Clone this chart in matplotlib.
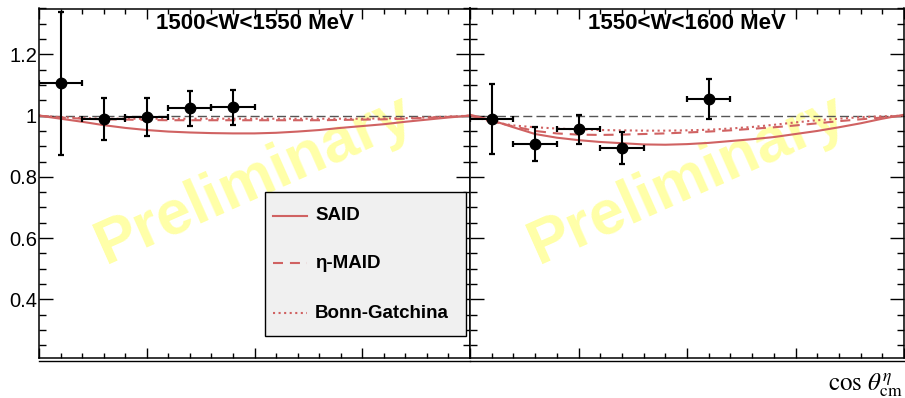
import matplotlib
matplotlib.use('Agg')
import matplotlib.pyplot as plt
from matplotlib.ticker import MultipleLocator, FuncFormatter
from matplotlib.patches import Rectangle
from matplotlib.lines import Line2D

plt.rcParams['font.family'] = ['Liberation Sans', 'DejaVu Sans']
plt.rcParams['mathtext.fontset'] = 'stix'
plt.rcParams['lines.scale_dashes'] = False

# ---- data ----
titles = ['1500<W<1550 MeV', '1550<W<1600 MeV']

pts_x_lo = [-0.9, -0.7, -0.5, -0.3, -0.1]
pts_y_lo = [1.106, 0.989, 0.995, 1.024, 1.028]
pts_e_lo = [0.233, 0.070, 0.063, 0.058, 0.057]

pts_x_hi = [-0.9, -0.7, -0.5, -0.3, 0.1]
pts_y_hi = [0.988, 0.908, 0.956, 0.895, 1.055]
pts_e_hi = [0.114, 0.056, 0.047, 0.052, 0.066]

bin_half = 0.1

cos_grid = [-1.0, -0.9, -0.8, -0.7, -0.6, -0.5, -0.4, -0.3, -0.2, -0.1, 0.0,
            0.1, 0.2, 0.3, 0.4, 0.5, 0.6, 0.7, 0.8, 0.9, 1.0]

said_lo = [1.0, 0.99, 0.98, 0.969, 0.96, 0.953, 0.948, 0.945, 0.943, 0.942, 0.942,
           0.944, 0.948, 0.953, 0.96, 0.966, 0.972, 0.98, 0.987, 0.994, 1.0]
maid_lo = [1.0, 0.994, 0.99, 0.988, 0.987, 0.986, 0.985, 0.985, 0.985, 0.985, 0.985,
           0.985, 0.985, 0.985, 0.986, 0.987, 0.988, 0.99, 0.993, 0.996, 1.0]
bnga_lo = [1.0, 0.995, 0.992, 0.99, 0.99, 0.99, 0.99, 0.99, 0.99, 0.99, 0.99,
           0.99, 0.99, 0.99, 0.99, 0.99, 0.991, 0.992, 0.994, 0.997, 1.0]

said_hi = [1.003, 0.985, 0.962, 0.94, 0.928, 0.92, 0.914, 0.91, 0.906, 0.905, 0.907,
           0.911, 0.917, 0.923, 0.93, 0.94, 0.95, 0.962, 0.975, 0.99, 1.003]
maid_hi = [1.0, 0.982, 0.965, 0.95, 0.942, 0.938, 0.937, 0.938, 0.94, 0.942, 0.945,
           0.948, 0.952, 0.957, 0.962, 0.968, 0.975, 0.982, 0.988, 0.994, 1.0]
bnga_hi = [1.0, 0.98, 0.968, 0.962, 0.958, 0.955, 0.953, 0.952, 0.951, 0.951, 0.952,
           0.954, 0.958, 0.963, 0.97, 0.978, 0.985, 0.99, 0.995, 0.998, 1.0]

model_names = ['SAID', 'η-MAID', 'Bonn-Gatchina']

red = '#d06262'
styles = ['-', (0, (7.2, 5.0)), (0, (1.5, 2.5))]

W, H = 905, 398
fig = plt.figure(figsize=(W / 100, H / 100), dpi=100)


def fx(px):
    return px / W


def fy(py):
    return 1 - py / H


top, bot = 8.5, 357.5
ax1 = fig.add_axes([fx(39), fy(bot), fx(470 - 39), (bot - top) / H])
ax2 = fig.add_axes([fx(470), fy(bot), fx(904 - 470), (bot - top) / H])

panels = [
    (ax1, pts_x_lo, pts_y_lo, pts_e_lo, [said_lo, maid_lo, bnga_lo], titles[0]),
    (ax2, pts_x_hi, pts_y_hi, pts_e_hi, [said_hi, maid_hi, bnga_hi], titles[1]),
]

for ax, px, py, pe, curves, title in panels:
    ax.set_xlim(-1, 1)
    ax.set_ylim(0.21, 1.35)

    ax.text(0.50, 0.51, 'Preliminary', transform=ax.transAxes, rotation=24,
            rotation_mode='anchor', ha='center', va='center', fontsize=45,
            fontweight='bold', color='#ffffa8', zorder=0)

    ax.axhline(1.0, color='#555555', lw=1.0, linestyle=(0, (6.5, 3.0)), zorder=1)

    for vals, ls in zip(curves, styles):
        ax.plot(cos_grid, vals, color=red, lw=1.5, linestyle=ls, zorder=2)

    ax.errorbar(px, py, xerr=bin_half, yerr=pe, fmt='o', color='k', ms=7.5,
                elinewidth=1.5, capsize=2.4, capthick=1.6, zorder=3)

    ax.text(0.5, 0.956, title, transform=ax.transAxes, ha='center', va='center',
            fontsize=16, fontweight='bold')

    ax.xaxis.set_major_locator(MultipleLocator(0.5))
    ax.xaxis.set_minor_locator(MultipleLocator(0.1))
    ax.yaxis.set_major_locator(MultipleLocator(0.2))
    ax.yaxis.set_minor_locator(MultipleLocator(0.05))
    ax.yaxis.set_major_formatter(FuncFormatter(lambda v, p: f'{v:g}'))
    ax.tick_params(which='both', direction='in', top=True, right=True,
                   labelbottom=False, width=1.0)
    ax.tick_params(axis='x', which='major', length=7.2)
    ax.tick_params(axis='x', which='minor', length=3.6)
    ax.tick_params(axis='y', which='major', length=10.0)
    ax.tick_params(axis='y', which='minor', length=5.0)
    ax.tick_params(axis='y', labelsize=14.5, pad=1.5)
    for sp in ax.spines.values():
        sp.set_linewidth(1.1)
    # ROOT draws a second frame line a few pixels under the axis
    ax.plot([0, 1], [-0.009, -0.009], transform=ax.transAxes, color='k',
            lw=1.0, clip_on=False)

ax2.tick_params(axis='y', labelleft=False)

# legend box drawn over the left pad
fig.add_artist(Rectangle((fx(265), fy(336)), fx(466 - 265), (336 - 192) / H,
                         transform=fig.transFigure, facecolor='#f0f0f0',
                         edgecolor='k', lw=1.0, zorder=10))
for name, ls, yc in zip(model_names, styles, [216, 263, 313]):
    fig.add_artist(Line2D([fx(273), fx(307)], [fy(yc), fy(yc)],
                          transform=fig.transFigure, color=red, lw=1.5,
                          linestyle=ls, zorder=11))
    fig.text(fx(315), fy(yc), name, ha='left', va='center', fontsize=13.5,
             fontweight='bold', zorder=11)

fig.text(fx(903), fy(390), r'$\cos\,\theta^{\eta}_{\rm cm}$', ha='right',
         va='baseline', fontsize=18)

fig.savefig('out.png', dpi=100)
